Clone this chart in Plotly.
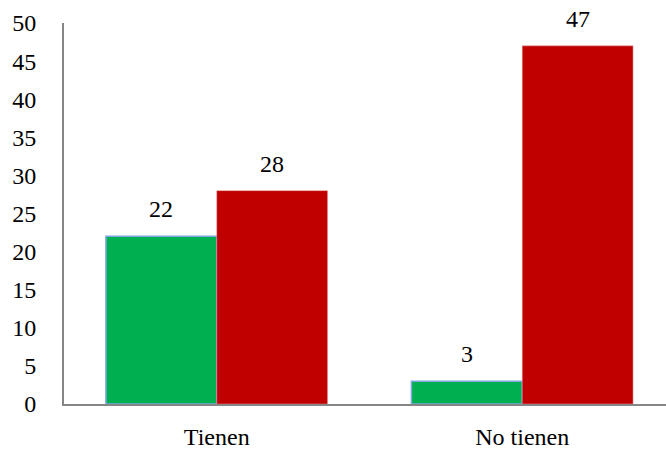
import plotly.graph_objects as go

categories = ["Tienen", "No tienen"]
serie_verde = [22, 3]
serie_roja = [28, 47]
y_ticks = [0, 5, 10, 15, 20, 25, 30, 35, 40, 45, 50]

FONT = "'Liberation Serif', 'Times New Roman', serif"
FSIZE = 24
BARGAP = 0.2745
x_pos = list(range(len(categories)))

fig = go.Figure()
fig.add_trace(go.Bar(
    x=x_pos, y=serie_verde,
    marker=dict(color="#00B050", line=dict(color="#7EA6E0", width=1.5)),
))
fig.add_trace(go.Bar(
    x=x_pos, y=serie_roja,
    marker=dict(color="#C00000", line=dict(color="#E6A0A0", width=0.5)),
))

# value labels centred above each bar
half = (1 - BARGAP) / 4
for series, offset in ((serie_verde, -half), (serie_roja, half)):
    for xi, v in zip(x_pos, series):
        fig.add_annotation(
            x=xi + offset, y=v, xref="x", yref="y", text=str(v),
            showarrow=False, yanchor="middle", yshift=27,
            font=dict(family=FONT, size=FSIZE, color="#000000"),
        )

fig.update_layout(
    width=666, height=453,
    margin=dict(l=64, r=0, t=23, b=49),
    paper_bgcolor="white", plot_bgcolor="white",
    barmode="group", bargap=BARGAP, bargroupgap=0,
    showlegend=False,
    font=dict(family=FONT, size=FSIZE, color="#000000"),
)
fig.update_xaxes(
    range=[-0.5, 1.4706], tickvals=x_pos, ticktext=categories,
    showline=True, linecolor="#868686", linewidth=2,
    showgrid=False, zeroline=False, ticks="", ticklabelstandoff=10,
    tickfont=dict(family=FONT, size=FSIZE),
)
fig.update_yaxes(
    range=[0, 50], tickvals=y_ticks,
    showline=True, linecolor="#868686", linewidth=2,
    showgrid=False, zeroline=False, ticks="", ticklabelstandoff=21,
    tickfont=dict(family=FONT, size=FSIZE),
)

fig.write_html("out.html")
